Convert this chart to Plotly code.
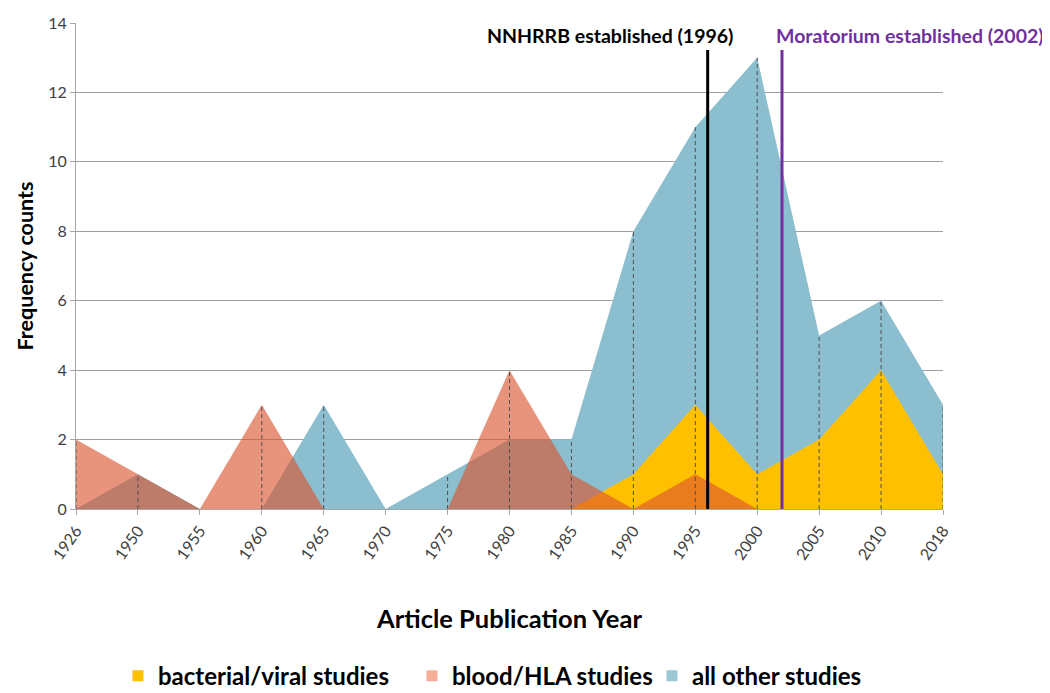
import plotly.graph_objects as go

years = ["1926", "1950", "1955", "1960", "1965", "1970", "1975", "1980",
         "1985", "1990", "1995", "2000", "2005", "2010", "2018"]
bacterial_viral = [0, 0, 0, 0, 0, 0, 0, 0, 0, 1, 3, 1, 2, 4, 1]
blood_hla = [2, 1, 0, 3, 0, 0, 0, 4, 1, 0, 1, 0, 0, 0, 0]
all_other = [0, 1, 0, 0, 3, 0, 1, 2, 2, 8, 11, 13, 5, 6, 3]

series_names = ["bacterial/viral studies", "blood/HLA studies", "all other studies"]
legend_colors = ["#FFC000", "#F4AE9A", "#9CC8D6"]
legend_widths = [249, 195, 190]

events = [("NNHRRB established (1996)", 1996, "#000000"),
          ("Moratorium established (2002)", 2002, "#7030A0")]

FONT = "Lato"
xi = list(range(len(years)))

def year_to_pos(y):
    nums = [int(v) for v in years]
    for i in range(len(nums) - 1):
        if nums[i] <= y <= nums[i + 1]:
            return i + (y - nums[i]) / (nums[i + 1] - nums[i])
    return len(nums) - 1

fig = go.Figure()

# all other studies (back)
fig.add_trace(go.Scatter(x=xi, y=all_other, mode="lines", fill="tozeroy",
                         line=dict(width=0, color="#8BBFCF"),
                         fillcolor="rgba(139,190,206,1)", showlegend=False,
                         hoverinfo="skip"))
# bacterial/viral
fig.add_trace(go.Scatter(x=xi, y=bacterial_viral, mode="lines", fill="tozeroy",
                         line=dict(width=0, color="#FFC000"),
                         fillcolor="rgba(255,192,0,1)", showlegend=False,
                         hoverinfo="skip"))
# blood/HLA (front, translucent)
fig.add_trace(go.Scatter(x=xi, y=blood_hla, mode="lines", fill="tozeroy",
                         line=dict(width=0, color="#DB5430"),
                         fillcolor="rgba(219,84,48,0.63)", showlegend=False,
                         hoverinfo="skip"))

# drop lines
dx, dy = [], []
for i in xi:
    m = max(bacterial_viral[i], blood_hla[i], all_other[i])
    if m > 0:
        dx += [i, i, None]
        dy += [0, m, None]
fig.add_trace(go.Scatter(x=dx, y=dy, mode="lines",
                         line=dict(color="#505050", width=1, dash="4px,3px"),
                         showlegend=False, hoverinfo="skip"))

# event lines
for label, yr, col in events:
    p = year_to_pos(yr)
    fig.add_trace(go.Scatter(x=[p, p], y=[0, 13.22], mode="lines",
                             line=dict(color=col, width=3),
                             showlegend=False, hoverinfo="skip"))

fig.add_annotation(x=year_to_pos(1996), y=13.63, text="<b>NNHRRB established (1996)</b>",
                   showarrow=False, xanchor="right", yanchor="middle", xshift=27,
                   font=dict(family=FONT, size=19.5, color="#000000"))
fig.add_annotation(x=year_to_pos(2002), y=13.63, text="<b>Moratorium established (2002)</b>",
                   showarrow=False, xanchor="left", yanchor="middle", xshift=-8,
                   font=dict(family=FONT, size=19.5, color="#7030A0"))

# legend entries
for name, col, lw in zip(series_names, legend_colors, legend_widths):
    fig.add_trace(go.Scatter(x=[None], y=[None], mode="markers", name=name,
                             legendwidth=lw,
                             marker=dict(symbol="square", size=11, color=col)))

fig.update_layout(
    width=1050, height=693,
    margin=dict(l=68, r=115, t=15, b=192, autoexpand=False),
    paper_bgcolor="white", plot_bgcolor="white",
    font=dict(family=FONT, color="#404040"),
    showlegend=True,
    legend=dict(orientation="h", x=0.0484, xanchor="left",
                yref="container", y=0.036, yanchor="middle",
                font=dict(family=FONT, size=24, color="#000000", weight="bold"),
                itemwidth=30, traceorder="normal", borderwidth=0),
)
fig.update_xaxes(range=[0, 14], tickmode="array", tickvals=xi, ticktext=years,
                 tickangle=-55, tickfont=dict(size=16, color="#404040"),
                 showline=True, linecolor="#A6A6A6", linewidth=1,
                 ticks="outside", ticklen=5, tickcolor="#A6A6A6",
                 showgrid=False, zeroline=False, automargin=False,
                 title=dict(text="<b>Article Publication Year</b>",
                            font=dict(family=FONT, size=25.5, color="#000000"),
                            standoff=48))
fig.update_yaxes(range=[0, 14], dtick=2, tickfont=dict(size=16, color="#404040"),
                 showline=True, linecolor="#A6A6A6", linewidth=1,
                 ticks="outside", ticklen=5, tickcolor="#A6A6A6",
                 showgrid=True, gridcolor="#A0A0A0", gridwidth=1,
                 zeroline=False, layer="above traces", automargin=False,
                 title=dict(text="<b>Frequency counts</b>",
                            font=dict(family=FONT, size=21.5, color="#000000"),
                            standoff=8))

fig.write_html("out.html")
